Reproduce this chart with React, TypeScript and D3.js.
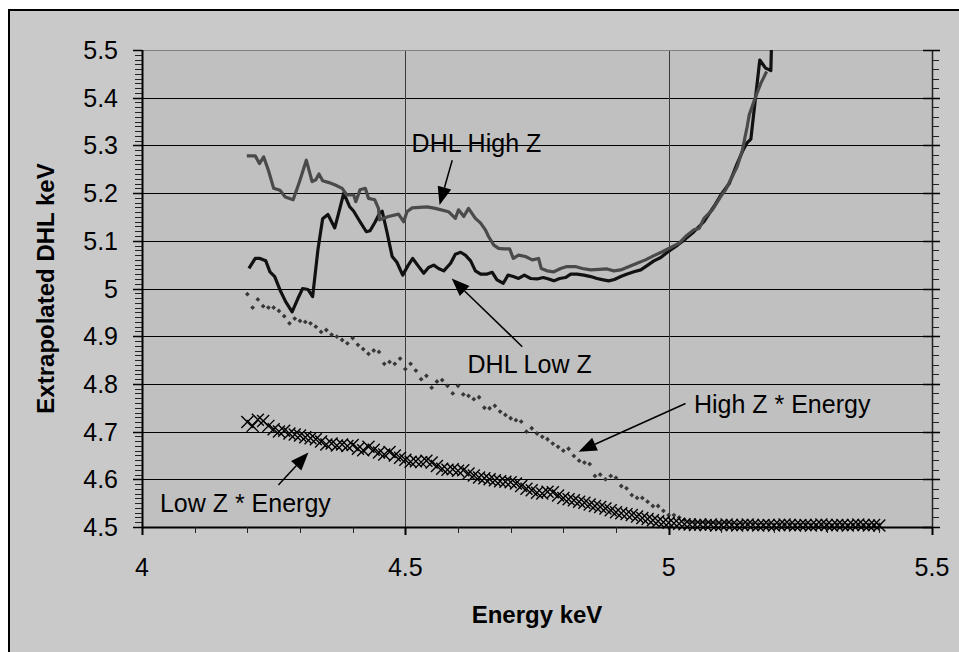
import React from 'react';
import * as d3 from 'd3';

const W = 959;
const H = 652;

// energy grid of the two "* Energy" marker series (keV)
const energy = [
  4.20, 4.21, 4.22, 4.23, 4.24, 4.25, 4.26, 4.27, 4.28, 4.29,
  4.30, 4.31, 4.32, 4.33, 4.34, 4.35, 4.36, 4.37, 4.38, 4.39,
  4.40, 4.41, 4.42, 4.43, 4.44, 4.45, 4.46, 4.47, 4.48, 4.49,
  4.50, 4.51, 4.52, 4.53, 4.54, 4.55, 4.56, 4.57, 4.58, 4.59,
  4.60, 4.61, 4.62, 4.63, 4.64, 4.65, 4.66, 4.67, 4.68, 4.69,
  4.70, 4.71, 4.72, 4.73, 4.74, 4.75, 4.76, 4.77, 4.78, 4.79,
  4.80, 4.81, 4.82, 4.83, 4.84, 4.85, 4.86, 4.87, 4.88, 4.89,
  4.90, 4.91, 4.92, 4.93, 4.94, 4.95, 4.96, 4.97, 4.98, 4.99,
  5.00, 5.01, 5.02, 5.03, 5.04, 5.05, 5.06, 5.07, 5.08, 5.09,
  5.10, 5.11, 5.12, 5.13, 5.14, 5.15, 5.16, 5.17, 5.18, 5.19,
  5.20, 5.21, 5.22, 5.23, 5.24, 5.25, 5.26, 5.27, 5.28, 5.29,
  5.30, 5.31, 5.32, 5.33, 5.34, 5.35, 5.36, 5.37, 5.38, 5.39,
  5.40,
];

const highZEnergy = [
  4.988, 4.960, 4.977, 4.963, 4.960, 4.960, 4.953, 4.942, 4.927, 4.937,
  4.932, 4.930, 4.927, 4.920, 4.909, 4.913, 4.903, 4.899, 4.892, 4.885,
  4.896, 4.882, 4.873, 4.863, 4.870, 4.867, 4.842, 4.846, 4.842, 4.853,
  4.831, 4.842, 4.828, 4.810, 4.817, 4.792, 4.805, 4.808, 4.796, 4.780,
  4.796, 4.778, 4.775, 4.768, 4.772, 4.750, 4.749, 4.754, 4.742, 4.735,
  4.728, 4.724, 4.721, 4.700, 4.707, 4.696, 4.689, 4.684, 4.675, 4.668,
  4.660, 4.664, 4.649, 4.639, 4.635, 4.632, 4.607, 4.610, 4.600, 4.607,
  4.603, 4.586, 4.581, 4.567, 4.561, 4.561, 4.553, 4.544, 4.544, 4.534,
  4.525, 4.525, 4.520, 4.515, 4.512, 4.510, 4.509, 4.510, 4.508, 4.509,
  4.507, 4.508, 4.507, 4.506, 4.507, 4.506, 4.507, 4.506, 4.505, 4.506,
  4.505, 4.506, 4.505, 4.506, 4.505, 4.505, 4.506, 4.505, 4.504, 4.505,
  4.505, 4.504, 4.505, 4.505, 4.504, 4.505, 4.505, 4.504, 4.505, 4.504,
  4.505,
];

const lowZEnergy = [
  4.720, 4.712, 4.725, 4.722, 4.712, 4.705, 4.700, 4.702, 4.696, 4.694,
  4.692, 4.688, 4.686, 4.684, 4.679, 4.673, 4.675, 4.671, 4.673, 4.670,
  4.672, 4.664, 4.661, 4.668, 4.662, 4.656, 4.652, 4.657, 4.650, 4.645,
  4.641, 4.637, 4.638, 4.636, 4.639, 4.635, 4.628, 4.622, 4.620, 4.621,
  4.618, 4.619, 4.612, 4.608, 4.604, 4.602, 4.600, 4.598, 4.596, 4.595,
  4.594, 4.591, 4.586, 4.580, 4.577, 4.572, 4.570, 4.574, 4.573, 4.566,
  4.561, 4.558, 4.556, 4.553, 4.551, 4.547, 4.544, 4.542, 4.539, 4.535,
  4.531, 4.529, 4.527, 4.525, 4.522, 4.519, 4.517, 4.514, 4.512, 4.510,
  4.509, 4.508, 4.507, 4.506, 4.505, 4.504, 4.505, 4.504, 4.505, 4.503,
  4.504, 4.505, 4.504, 4.503, 4.504, 4.505, 4.504, 4.503, 4.504, 4.504,
  4.503, 4.504, 4.505, 4.504, 4.503, 4.504, 4.504, 4.503, 4.504, 4.505,
  4.504, 4.503, 4.504, 4.504, 4.503, 4.504, 4.505, 4.504, 4.503, 4.504,
  4.503,
];

// DHL lines: [energy keV, extrapolated DHL keV]
const dhlLowZ: [number, number][] = [
  [4.203, 5.042], [4.215, 5.063], [4.224, 5.063], [4.235, 5.058], [4.243, 5.035],
  [4.252, 5.025], [4.262, 4.997], [4.273, 4.972], [4.285, 4.951], [4.296, 4.979],
  [4.305, 5.000], [4.315, 4.998], [4.324, 4.983], [4.334, 5.081], [4.343, 5.146],
  [4.353, 5.155], [4.366, 5.127], [4.375, 5.165], [4.383, 5.200], [4.394, 5.172],
  [4.402, 5.162], [4.414, 5.140], [4.426, 5.119], [4.433, 5.121], [4.443, 5.140],
  [4.451, 5.158], [4.456, 5.162], [4.465, 5.119], [4.475, 5.067], [4.484, 5.055],
  [4.495, 5.028], [4.505, 5.048], [4.514, 5.063], [4.524, 5.048], [4.535, 5.032],
  [4.544, 5.044], [4.554, 5.049], [4.563, 5.042], [4.573, 5.037], [4.586, 5.053],
  [4.595, 5.072], [4.605, 5.076], [4.614, 5.070], [4.624, 5.058], [4.633, 5.037],
  [4.643, 5.030], [4.654, 5.030], [4.665, 5.034], [4.674, 5.018], [4.686, 5.011],
  [4.695, 5.028], [4.705, 5.025], [4.715, 5.021], [4.726, 5.028], [4.738, 5.021],
  [4.750, 5.020], [4.762, 5.023], [4.772, 5.020], [4.782, 5.016], [4.793, 5.021],
  [4.804, 5.023], [4.814, 5.030], [4.826, 5.030], [4.839, 5.028], [4.852, 5.025],
  [4.864, 5.021], [4.876, 5.018], [4.886, 5.016], [4.897, 5.019], [4.909, 5.025],
  [4.920, 5.030], [4.934, 5.035], [4.947, 5.039], [4.959, 5.048], [4.972, 5.058],
  [4.985, 5.065], [5.001, 5.079], [5.017, 5.091], [5.032, 5.104], [5.048, 5.119],
  [5.067, 5.140], [5.086, 5.172], [5.099, 5.196], [5.115, 5.220], [5.130, 5.262],
  [5.140, 5.287], [5.148, 5.304], [5.156, 5.313], [5.173, 5.479], [5.184, 5.462],
  [5.194, 5.457], [5.195, 5.500],
];

const dhlHighZ: [number, number][] = [
  [4.199, 5.278], [4.215, 5.278], [4.223, 5.262], [4.231, 5.276], [4.240, 5.248],
  [4.250, 5.210], [4.262, 5.206], [4.272, 5.192], [4.287, 5.186], [4.299, 5.224],
  [4.312, 5.269], [4.323, 5.224], [4.330, 5.228], [4.336, 5.240], [4.343, 5.226],
  [4.355, 5.222], [4.367, 5.217], [4.380, 5.210], [4.389, 5.196], [4.402, 5.196],
  [4.406, 5.182], [4.414, 5.207], [4.424, 5.210], [4.430, 5.189], [4.442, 5.186],
  [4.449, 5.168], [4.451, 5.144], [4.468, 5.151], [4.487, 5.156], [4.497, 5.140],
  [4.503, 5.161], [4.513, 5.169], [4.541, 5.171], [4.557, 5.168], [4.582, 5.161],
  [4.595, 5.147], [4.601, 5.165], [4.611, 5.151], [4.620, 5.168], [4.633, 5.147],
  [4.643, 5.137], [4.652, 5.123], [4.658, 5.109], [4.668, 5.091], [4.677, 5.084],
  [4.687, 5.083], [4.698, 5.083], [4.705, 5.063], [4.715, 5.070], [4.728, 5.067],
  [4.741, 5.060], [4.753, 5.063], [4.758, 5.042], [4.769, 5.037], [4.782, 5.035],
  [4.795, 5.042], [4.807, 5.046], [4.823, 5.046], [4.836, 5.042], [4.852, 5.039],
  [4.868, 5.040], [4.883, 5.041], [4.896, 5.037], [4.909, 5.039], [4.925, 5.046],
  [4.940, 5.053], [4.956, 5.060], [4.972, 5.069], [4.988, 5.077], [5.004, 5.086],
  [5.020, 5.095], [5.032, 5.109], [5.048, 5.123], [5.058, 5.126], [5.067, 5.147],
  [5.083, 5.165], [5.099, 5.193], [5.108, 5.207], [5.130, 5.255], [5.140, 5.290],
  [5.149, 5.339], [5.153, 5.364], [5.165, 5.402], [5.175, 5.430], [5.186, 5.455],
];

const xTicks = [4, 4.5, 5, 5.5];
const yTicks = [4.5, 4.6, 4.7, 4.8, 4.9, 5, 5.1, 5.2, 5.3, 5.4, 5.5];

// callouts: label position, arrow start and arrow tip in data units
const callouts = [
  { text: 'DHL High Z', at: [4.635, 5.305], anchor: 'middle', from: [4.589, 5.269], to: [4.565, 5.175] },
  { text: 'DHL Low Z', at: [4.736, 4.842], anchor: 'middle', from: [4.722, 4.878], to: [4.588, 5.021] },
  { text: 'High Z * Energy', at: [5.048, 4.758], anchor: 'start', from: [5.032, 4.759], to: [4.829, 4.658] },
  { text: 'Low Z * Energy', at: [4.034, 4.550], anchor: 'start', from: [4.259, 4.588], to: [4.316, 4.656] },
];

const FONT = '"Liberation Sans", Arial, sans-serif';

const x = d3.scaleLinear().domain([4, 5.5]).range([142, 932]);
const y = d3.scaleLinear().domain([4.5, 5.5]).range([527, 50]);

const crisp = (v: number) => Math.round(v) + 0.5;

const Arrow = ({ from, to }: { from: number[]; to: number[] }) => {
  const x1 = x(from[0]), y1 = y(from[1]);
  const x2 = x(to[0]), y2 = y(to[1]);
  const ang = Math.atan2(y2 - y1, x2 - x1);
  const len = 18, half = 7;
  const bx = x2 - len * Math.cos(ang), by = y2 - len * Math.sin(ang);
  const px = -Math.sin(ang) * half, py = Math.cos(ang) * half;
  return (
    <g>
      <line x1={x1} y1={y1} x2={bx} y2={by} stroke="#000" strokeWidth={1.5} />
      <path d={`M${x2},${y2}L${bx + px},${by + py}L${bx - px},${by - py}Z`} fill="#000" />
    </g>
  );
};

export default function App() {
  const line = d3.line<[number, number]>().x(d => x(d[0])).y(d => y(d[1]));
  const xMinor = d3.range(4, 5.5001, 0.1);
  const yMinorLeft = d3.range(4.5, 5.5001, 0.01);
  const yMinorRight = d3.range(4.5, 5.5001, 0.02);
  const [x0, x1] = x.range();
  const [y0, y1] = y.range();

  return (
    <svg width={W} height={H} style={{ position: 'absolute', left: 0, top: 0, background: '#fff' }}
      fontFamily={FONT}>
      {/* chart frame */}
      <rect x={9} y={10} width={W + 10} height={H + 10} fill="#c9c9c9" stroke="#000" strokeWidth={2} />
      {/* plot area */}
      <rect x={x0} y={y1} width={x1 - x0} height={y0 - y1} fill="#c0c0c0" />

      {/* gridlines */}
      {yTicks.slice(1, -1).map(t => (
        <line key={'gy' + t} x1={x0} x2={x1} y1={crisp(y(t))} y2={crisp(y(t))} stroke="#000" strokeWidth={1} />
      ))}
      {xTicks.slice(1, -1).map(t => (
        <line key={'gx' + t} x1={crisp(x(t))} x2={crisp(x(t))} y1={y1} y2={y0} stroke="#3a3a3a" strokeWidth={1} />
      ))}
      <line x1={x0} x2={x1} y1={crisp(y1)} y2={crisp(y1)} stroke="#808080" strokeWidth={1} />

      {/* series */}
      <path d={line(dhlLowZ) || ''} fill="none" stroke="#111" strokeWidth={3.2} strokeLinejoin="round" />
      <path d={line(dhlHighZ) || ''} fill="none" stroke="#4a4a4a" strokeWidth={3.2} strokeLinejoin="round" />
      {energy.map((e, i) => (
        <path key={'h' + i} transform={`translate(${x(e)},${y(highZEnergy[i])})`}
          d="M0,-2.4L2.4,0L0,2.4L-2.4,0Z" fill="#383838" />
      ))}
      {energy.map((e, i) => (
        <path key={'l' + i} transform={`translate(${x(e)},${y(lowZEnergy[i])})`}
          d="M-6,-6L6,6M-6,6L6,-6" stroke="#000" strokeWidth={1.4} fill="none" />
      ))}

      {/* axes */}
      <line x1={crisp(x0)} x2={crisp(x0)} y1={y1} y2={y0 + 1} stroke="#000" strokeWidth={2} />
      <line x1={x0} x2={x1} y1={crisp(y0)} y2={crisp(y0)} stroke="#000" strokeWidth={2} />
      <line x1={crisp(x1)} x2={crisp(x1)} y1={y1} y2={y0} stroke="#222" strokeWidth={1.5} />

      {yMinorLeft.map((t, i) => (
        <line key={'yl' + i} x1={x0 - 7} x2={x0} y1={crisp(y(t))} y2={crisp(y(t))} stroke="#222" strokeWidth={1} />
      ))}
      {yTicks.map(t => (
        <line key={'yL' + t} x1={x0 - 9} x2={x0} y1={crisp(y(t))} y2={crisp(y(t))} stroke="#000" strokeWidth={1.5} />
      ))}
      {yMinorRight.map((t, i) => (
        <line key={'yr' + i} x1={x1} x2={x1 + 7} y1={crisp(y(t))} y2={crisp(y(t))} stroke="#222" strokeWidth={1} />
      ))}
      {yTicks.map(t => (
        <line key={'yR' + t} x1={x1 - 9} x2={x1 + 8} y1={crisp(y(t))} y2={crisp(y(t))} stroke="#000" strokeWidth={1.5} />
      ))}
      {xMinor.map((t, i) => (
        <line key={'xm' + i} x1={crisp(x(t))} x2={crisp(x(t))} y1={y0} y2={y0 + 6} stroke="#222" strokeWidth={1} />
      ))}
      {xTicks.map(t => (
        <line key={'xM' + t} x1={crisp(x(t))} x2={crisp(x(t))} y1={y0} y2={y0 + 8} stroke="#000" strokeWidth={2} />
      ))}

      {/* tick labels */}
      {yTicks.map(t => (
        <text key={'ty' + t} x={118} y={y(t) + 9} textAnchor="end" fontSize={25} fill="#000">{String(t)}</text>
      ))}
      {xTicks.map(t => (
        <text key={'tx' + t} x={x(t)} y={576} textAnchor="middle" fontSize={25} fill="#000">{String(t)}</text>
      ))}

      {/* axis titles */}
      <text x={(x0 + x1) / 2} y={623} textAnchor="middle" fontSize={24} fontWeight="bold">Energy keV</text>
      <text transform={`translate(54,${(y0 + y1) / 2}) rotate(-90)`} textAnchor="middle" fontSize={24}
        fontWeight="bold">Extrapolated DHL keV</text>

      {/* callouts */}
      {callouts.map(c => (
        <g key={c.text}>
          <text x={x(c.at[0])} y={y(c.at[1]) + 9} textAnchor={c.anchor} fontSize={25} fill="#000">{c.text}</text>
          <Arrow from={c.from} to={c.to} />
        </g>
      ))}
    </svg>
  );
}
